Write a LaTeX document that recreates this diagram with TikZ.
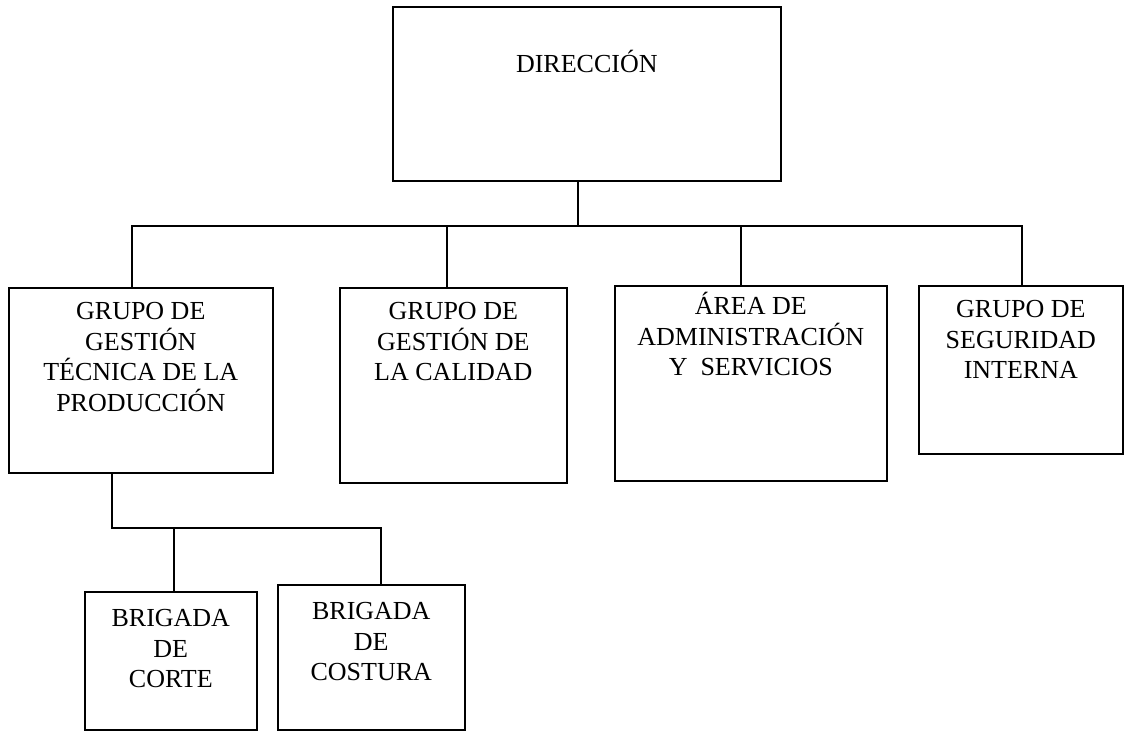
\documentclass[tikz,border=0pt]{standalone}
\usepackage{fontspec}
\setmainfont{Liberation Serif}
\usepackage{tikz}
\usetikzlibrary{positioning}
\tikzstyle{unit} = [rectangle, draw=black, thick, inner sep=0pt, anchor=north west]
\tikzstyle{link} = [thick, color=black]
\newcommand{\unittext}[4]{\parbox[c][#2][t]{#1}{\centering\fontsize{13pt}{15.25pt}\selectfont\rule{0pt}{#3}#4}}

\begin{document}
\begin{tikzpicture}[x=0.5pt, y=-0.5pt]
\useasboundingbox (0,0) rectangle (1125,731);
% Organigrama
\node (dir) [unit] at (392,6) {\unittext{194pt}{87pt}{33pt}{DIRECCIÓN}};
\node (ggtp) [unit] at (8,287) {\unittext{132pt}{92.5pt}{16pt}{GRUPO DE\\ GESTIÓN\\ TÉCNICA DE LA\\ PRODUCCIÓN}};
\node (ggc) [unit] at (339,287) {\unittext{113.5pt}{97.5pt}{16pt}{GRUPO DE\\ GESTIÓN DE\\ LA CALIDAD}};
\node (aas) [unit] at (614,285) {\unittext{136pt}{97.5pt}{14.5pt}{ÁREA DE\\ ADMINISTRACIÓN\\ Y\ \ SERVICIOS}};
\node (gsi) [unit] at (918,285) {\unittext{102pt}{84pt}{16pt}{GRUPO DE\\ SEGURIDAD\\ INTERNA}};
\node (corte) [unit] at (84,591) {\unittext{86pt}{69pt}{17.5pt}{BRIGADA\\ DE\\ CORTE}};
\node (costura) [unit] at (277,584) {\unittext{93.5pt}{72.5pt}{17.5pt}{BRIGADA\\ DE\\ COSTURA}};

\coordinate (top) at (578,226);
\coordinate (tapA) at (132,226);
\coordinate (tapB) at (447,226);
\coordinate (tapC) at (741,226);
\coordinate (tapD) at (1022,226);
\draw[link] (dir.south -| top) -- (top);
\draw[link] (tapA |- ggtp.north) -- (tapA) -- (tapD) -- (tapD |- gsi.north);
\draw[link] (tapB) -- (tapB |- ggc.north);
\draw[link] (tapC) -- (tapC |- aas.north);

% Brigadas
\coordinate (sub) at (112,528);
\coordinate (tapE) at (174,528);
\coordinate (tapF) at (381,528);
\draw[link] (ggtp.south -| sub) -- (sub) -- (tapF) -- (tapF |- costura.north);
\draw[link] (tapE) -- (tapE |- corte.north);
\end{tikzpicture}
\end{document}
